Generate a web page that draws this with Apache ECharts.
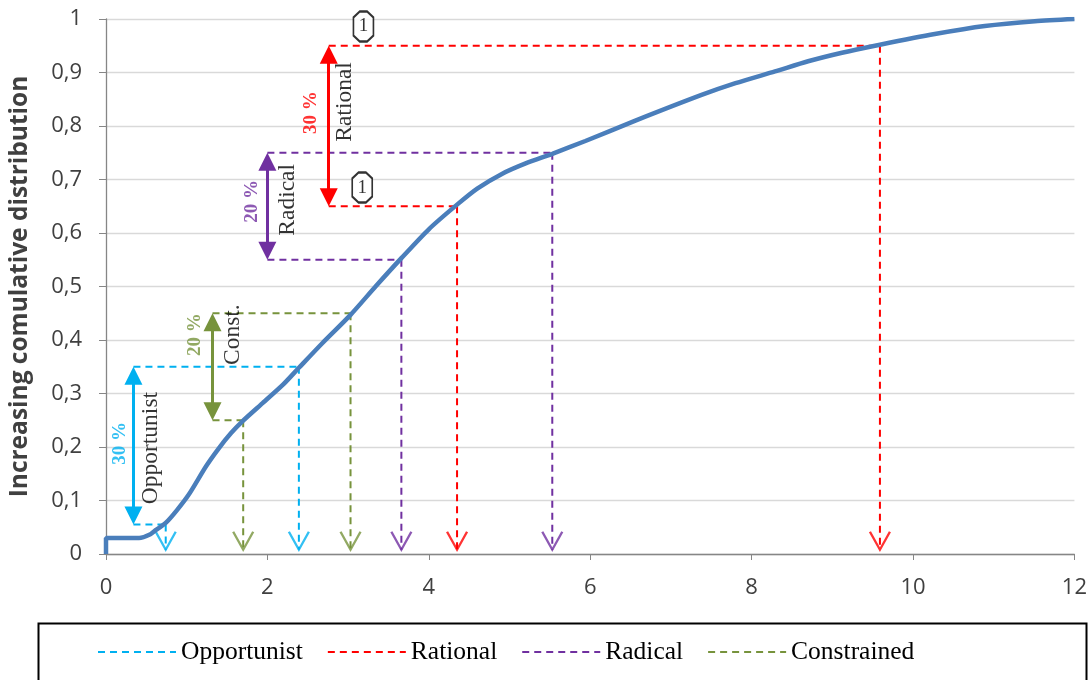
<!DOCTYPE html>
<html>
<head>
<meta charset="utf-8">
<script src="https://cdn.jsdelivr.net/npm/echarts@6/dist/echarts.min.js"></script>
<style>html,body{margin:0;padding:0;background:#fff}#c{width:1090px;height:680px}</style>
</head>
<body>
<div id="c"></div>
<script>
// ---- data ----
const curveX = [0, 0, 0.2, 0.41, 0.55, 0.62, 0.74, 0.88, 1.03, 1.24, 1.40, 1.55, 1.69, 1.94, 2.19, 2.39, 2.68, 3.03, 3.34, 3.66, 4.0, 4.35, 4.6, 4.9, 5.2, 5.53, 5.94, 6.56, 7.38, 7.80, 8.29, 8.70, 9.12, 9.59, 10.27, 10.89, 11.51, 12];
const curveY = [0, 0.03, 0.03, 0.03, 0.037, 0.045, 0.058, 0.082, 0.112, 0.164, 0.198, 0.226, 0.248, 0.282, 0.316, 0.348, 0.394, 0.447, 0.50, 0.553, 0.607, 0.653, 0.683, 0.710, 0.730, 0.748, 0.772, 0.81, 0.858, 0.880, 0.902, 0.921, 0.937, 0.952, 0.972, 0.987, 0.996, 1.0];

const groups      = ['Opportunist', 'Rational', 'Radical', 'Constrained'];
const groupShort  = ['Opportunist', 'Rational', 'Radical', 'Const.'];
const groupShare  = ['30 %', '30 %', '20 %', '20 %'];
const groupColors = ['#00b0f0', '#ff0000', '#7030a0', '#77933c'];
const arrowX = [0.34, 2.76, 2.0, 1.32];   // x of the double arrow
const lowY   = [0.055, 0.65, 0.55, 0.25]; // lower bound
const highY  = [0.35, 0.95, 0.75, 0.45];  // upper bound
const lowX   = [0.74, 4.35, 3.66, 1.70];  // curve x at lower bound
const highX  = [2.39, 9.59, 5.53, 3.03];  // curve x at upper bound
// label anchor positions (data units)
const shareLabelX = [0.18, 2.54, 1.815, 1.11];
const shareLabelY = [0.207, 0.825, 0.659, 0.41];
const nameLabelX  = [0.556, 2.965, 2.25, 1.57];
const nameLabelY  = [0.198, 0.845, 0.662, 0.41];
const badgeX = [3.19, 3.175];
const badgeY = [0.986, 0.685];
const badgeText = ['1', '1'];

const xTicks = [0, 2, 4, 6, 8, 10, 12];
const yTitle = 'Increasing comulative distribution';

// ---- build ----
const chart = echarts.init(document.getElementById('c'), null, {renderer: 'canvas'});
const baseY = 0.008;
const series = [];

series.push({
  name: 'curve', type: 'line', data: curveX.map((x, i) => [x, curveY[i]]),
  smooth: 0.25, symbol: 'none',
  lineStyle: {color: '#4a7ebb', width: 4.5}, z: 5
});

groups.forEach((g, i) => {
  const c = groupColors[i];
  const segs = [
    [[arrowX[i], highY[i]], [highX[i], highY[i]]],
    [[highX[i], highY[i]], [highX[i], baseY]],
    [[arrowX[i], lowY[i]], [lowX[i], lowY[i]]],
    [[lowX[i], lowY[i]], [lowX[i], baseY]]
  ];
  segs.forEach(s => series.push({
    name: g, type: 'line', data: s, symbol: 'none', silent: true,
    itemStyle: {color: c},
    lineStyle: {color: c, width: 2, type: [7, 5]}, z: 3
  }));
  // open V arrow heads at bottom
  series.push({
    name: g + '_v', type: 'scatter', silent: true,
    data: [[highX[i], baseY], [lowX[i], baseY]],
    symbol: 'path://M0,0 L10,18 L20,0', symbolSize: [20, 18], symbolOffset: [0, -9],
    itemStyle: {color: 'rgba(0,0,0,0)', borderColor: c, borderWidth: 2.2}, z: 4
  });
  // double arrow
  const d = 0.017;
  series.push({
    name: g + '_arrow', type: 'lines', coordinateSystem: 'cartesian2d', silent: true,
    data: [{coords: [[arrowX[i], lowY[i] + d], [arrowX[i], highY[i] - d]]}],
    symbol: ['triangle', 'triangle'], symbolSize: 18,
    lineStyle: {color: c, width: 3, opacity: 1, curveness: 0}, z: 6
  });
  // rotated labels
  series.push({
    name: g + '_txt', type: 'scatter', silent: true, symbolSize: 0,
    data: [
      {value: [shareLabelX[i], shareLabelY[i]], label: {formatter: groupShare[i], color: c, fontWeight: 'bold', fontSize: 19}},
      {value: [nameLabelX[i], nameLabelY[i]], label: {formatter: groupShort[i], color: '#000', fontSize: 23.5}}
    ],
    label: {show: true, position: 'inside', rotate: 90, fontFamily: 'Liberation Serif'}, z: 7
  });
});

series.push({
  name: 'badge', type: 'scatter', silent: true,
  data: badgeX.map((x, i) => ({value: [x, badgeY[i]], name: badgeText[i]})),
  symbol: 'path://M6,0 L13,0 L19,6 L19,24 L13,30 L6,30 L0,24 L0,6 Z', symbolSize: [20, 30],
  itemStyle: {color: '#fff', borderColor: '#000', borderWidth: 2},
  label: {show: true, position: 'inside', formatter: p => p.name, color: '#000', fontFamily: 'Liberation Serif', fontSize: 19},
  z: 8
});

chart.setOption({
  animation: false,
  backgroundColor: '#fff',
  grid: {left: 103, right: 15, top: 19, bottom: 126, containLabel: false},
  xAxis: {
    type: 'value', min: 0, max: 12, interval: 2,
    axisLine: {show: true, lineStyle: {color: '#868686', width: 1.3}},
    axisTick: {show: true, length: 6, lineStyle: {color: '#868686'}},
    splitLine: {show: false},
    axisLabel: {color: '#404040', fontSize: 22, fontFamily: 'Open Sans', margin: 23,
      formatter: v => xTicks.includes(v) ? String(v) : ''}
  },
  yAxis: {
    type: 'value', min: 0, max: 1, interval: 0.1,
    name: yTitle, nameLocation: 'middle', nameGap: 73,
    nameTextStyle: {color: '#404040', fontSize: 24.5, fontWeight: 'bold', fontFamily: 'Open Sans'},
    axisLine: {show: true, lineStyle: {color: '#868686', width: 1.3}},
    axisTick: {show: true, length: 7, lineStyle: {color: '#868686'}},
    splitLine: {show: true, lineStyle: {color: '#d9d9d9', width: 1.3}},
    axisLabel: {color: '#404040', fontSize: 22, fontFamily: 'Open Sans', margin: 24,
      formatter: v => String(Math.round(v * 10) / 10).replace('.', ',')}
  },
  legend: {
    data: groups, left: 92, top: 634, itemWidth: 78, itemHeight: 14, itemGap: 24,
    itemStyle: {opacity: 0},
    textStyle: {fontFamily: 'Liberation Serif', fontSize: 25.5, color: '#000'},
    selectedMode: false
  },
  graphic: [{
    type: 'rect', left: 36, top: 621, shape: {width: 1048, height: 80},
    style: {fill: 'none', stroke: '#000', lineWidth: 2}, z: 0
  }],
  series: series
});
</script>
</body>
</html>
